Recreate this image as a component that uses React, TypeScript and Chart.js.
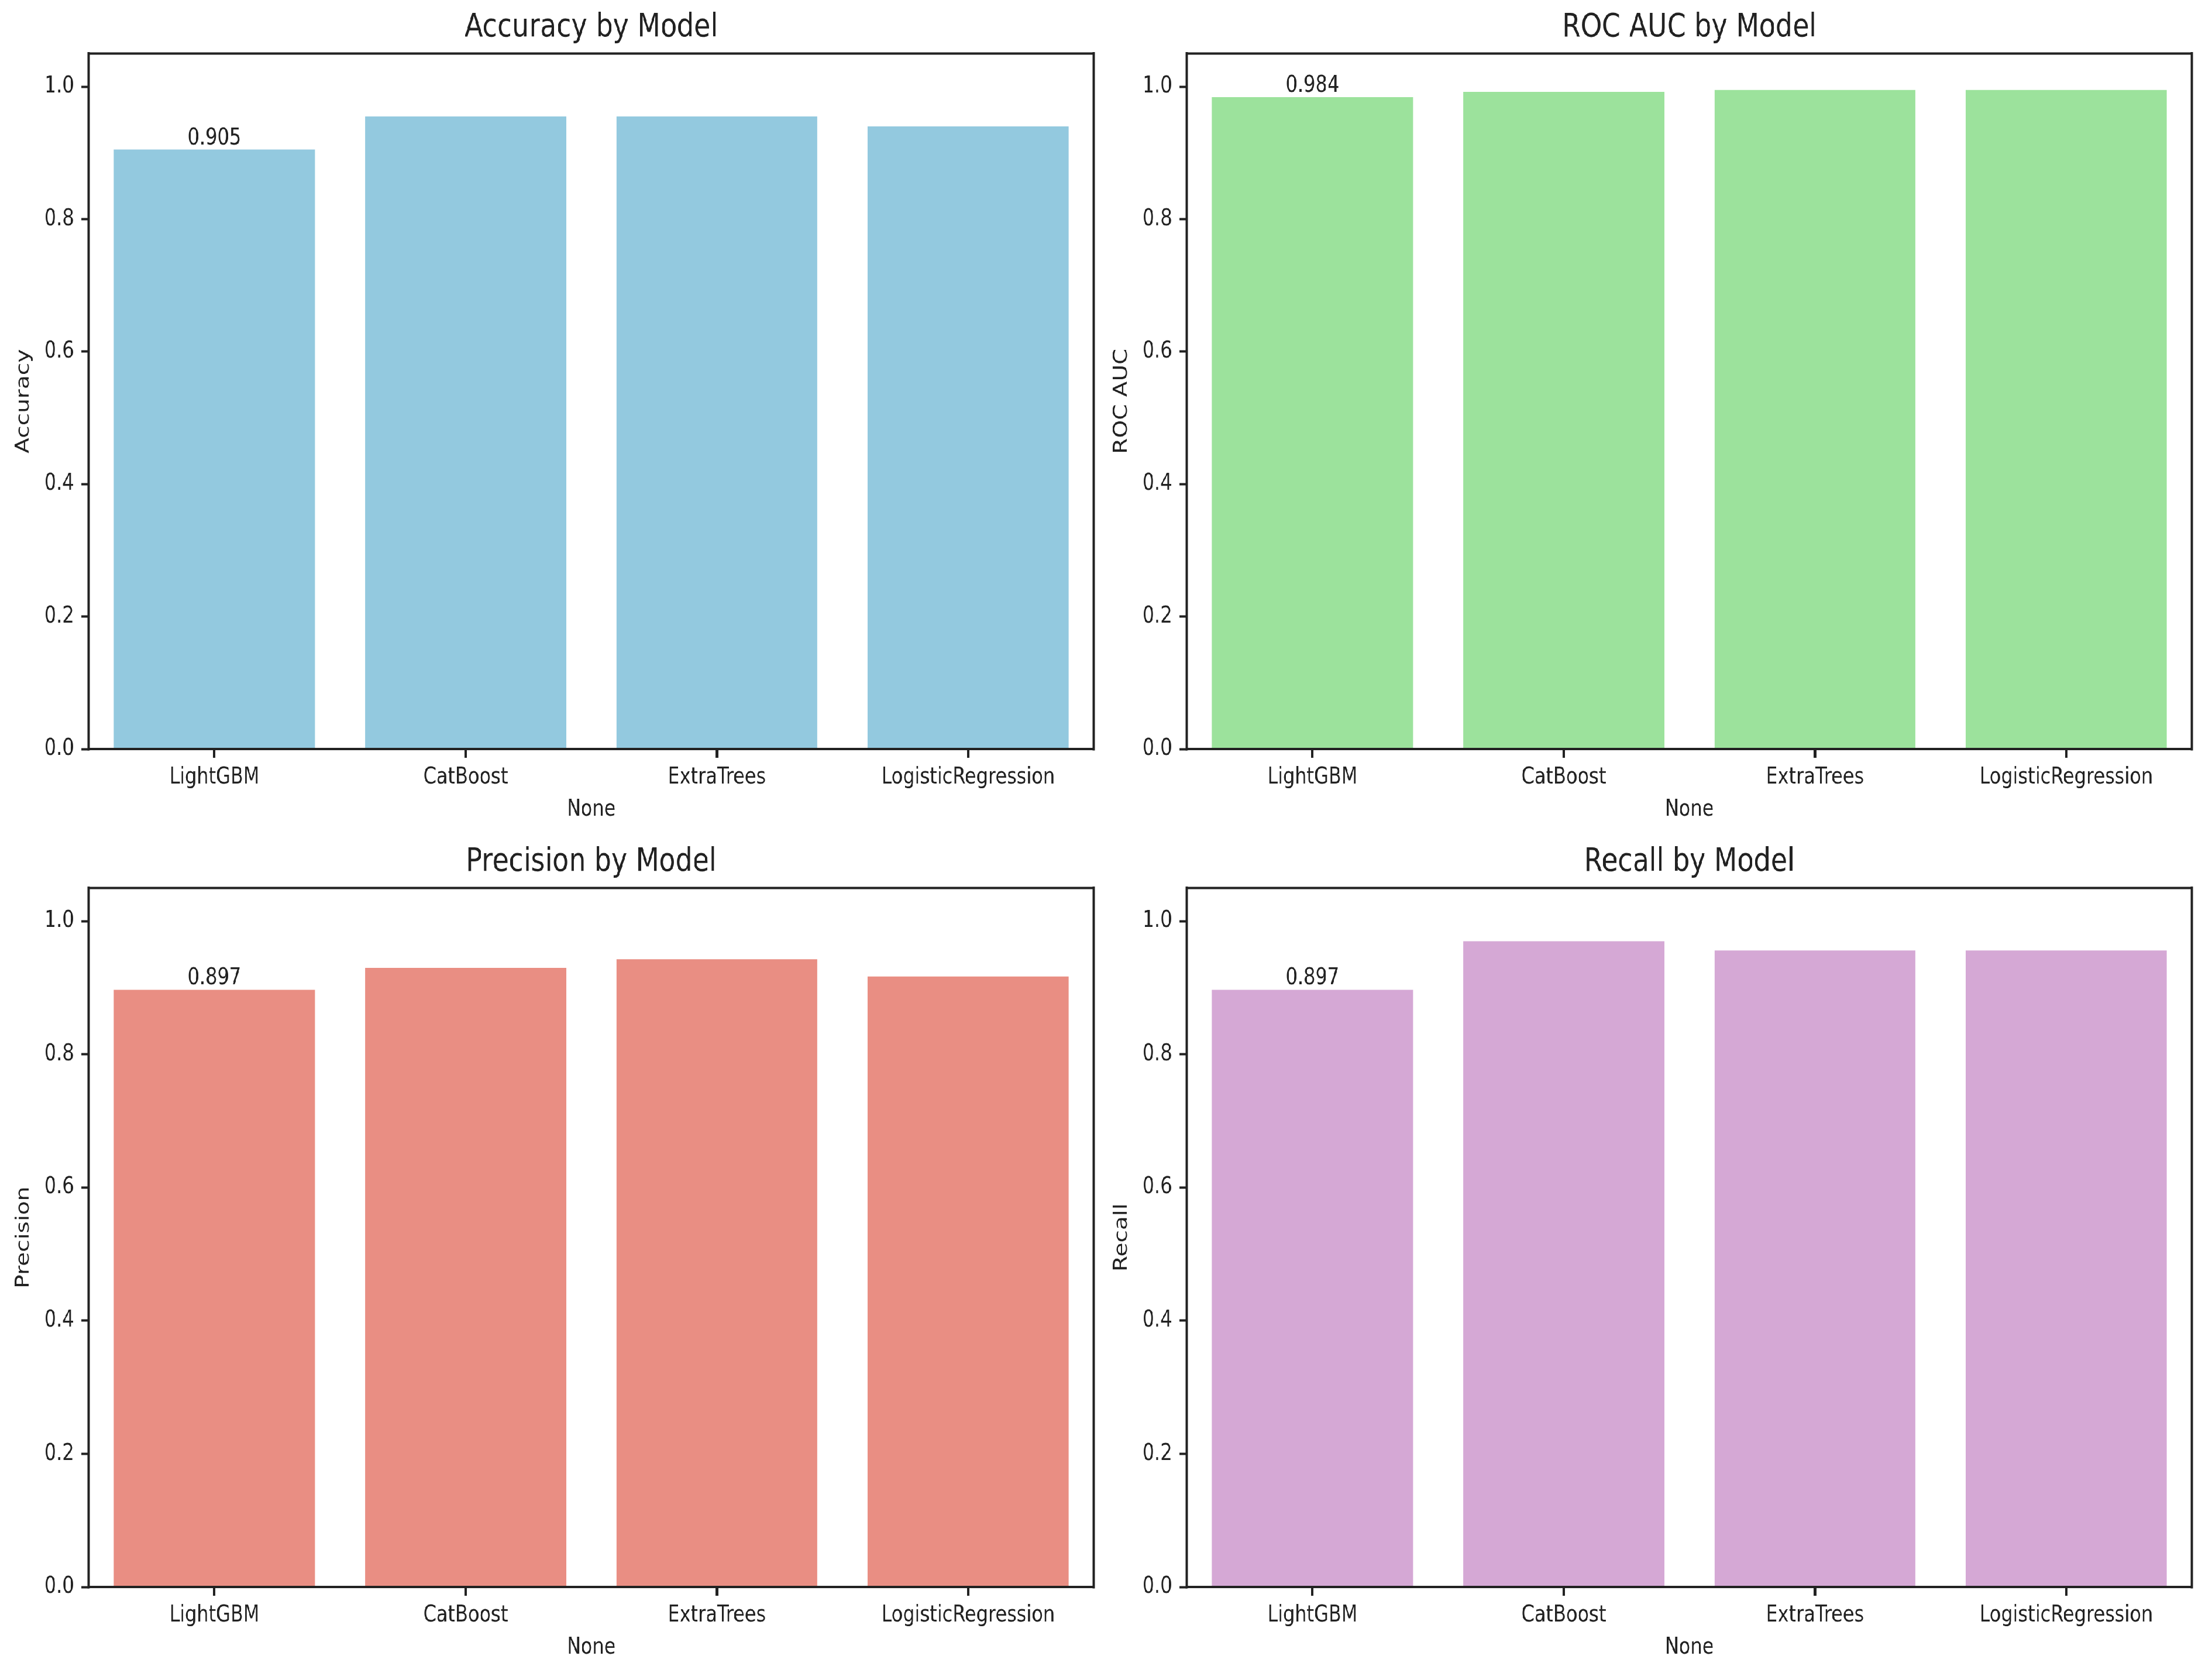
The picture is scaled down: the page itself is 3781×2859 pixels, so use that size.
import { useEffect, useRef } from "react";
import { Chart, registerables } from "chart.js";

Chart.register(...registerables);

// model names on the x axis
const models = ["LightGBM", "CatBoost", "ExtraTrees", "LogisticRegression"];

// metric values
const accuracy = [0.905, 0.955, 0.955, 0.94];
const rocAuc = [0.984, 0.992, 0.995, 0.995];
const precision = [0.897, 0.93, 0.943, 0.917];
const recall = [0.897, 0.97, 0.956, 0.956];

// y axis: 0.0 .. 1.0 in steps of 0.2, top of the axis at 1.05
const Y_MAX = 1.05;
const Y_STEP = 0.2;

const FONT = "'DejaVu Sans', 'Liberation Sans', sans-serif";
const INK = "#222222";
// the reference figure is squeezed horizontally
const SQUEEZE = 0.82;
const CANVAS_W = 2289;
const X_AXIS_H = 127;

const framePlugin = {
  id: "frame",
  afterDatasetsDraw(chart: Chart) {
    const { ctx, chartArea: a } = chart;
    ctx.save();
    ctx.strokeStyle = INK;
    ctx.lineCap = "square";
    ctx.lineWidth = 4;
    ctx.beginPath();
    ctx.moveTo(a.left, a.top);
    ctx.lineTo(a.right, a.top);
    ctx.moveTo(a.left, a.bottom);
    ctx.lineTo(a.right, a.bottom);
    ctx.stroke();
    ctx.lineWidth = 5;
    ctx.beginPath();
    ctx.moveTo(a.left, a.top);
    ctx.lineTo(a.left, a.bottom);
    ctx.moveTo(a.right, a.top);
    ctx.lineTo(a.right, a.bottom);
    ctx.stroke();
    ctx.restore();
  },
};

// only the first bar carries a value label
const barLabelPlugin = {
  id: "barLabel",
  afterDatasetsDraw(chart: Chart) {
    const el: any = chart.getDatasetMeta(0).data[0];
    const v = chart.data.datasets[0].data[0] as number;
    if (!el) return;
    const { ctx } = chart;
    ctx.save();
    ctx.fillStyle = INK;
    ctx.font = `39px ${FONT}`;
    ctx.textAlign = "center";
    ctx.textBaseline = "alphabetic";
    ctx.fillText(v.toFixed(3), el.x, el.y - 9);
    ctx.restore();
  },
};

interface PanelProps {
  title: string;
  axisLabel: string;
  values: number[];
  color: string;
  left: number;
  top: number;
  height: number;
}

function Panel({ title, axisLabel, values, color, left, top, height }: PanelProps) {
  const ref = useRef<HTMLCanvasElement>(null);

  useEffect(() => {
    if (!ref.current) return;
    const tickFont = { family: FONT, size: 39, lineHeight: 1.2 };
    const chart = new Chart(ref.current, {
      type: "bar",
      data: {
        labels: models,
        datasets: [
          {
            data: values,
            backgroundColor: color,
            borderWidth: 0,
            categoryPercentage: 1,
            barPercentage: 0.8,
          },
        ],
      },
      options: {
        responsive: false,
        animation: false,
        devicePixelRatio: 1,
        layout: { padding: { left: 0, right: 9, top: 0, bottom: 0 } },
        plugins: {
          legend: { display: false },
          tooltip: { enabled: false },
          title: {
            display: true,
            text: title,
            fullSize: false,
            color: INK,
            font: { family: FONT, size: 56, weight: "normal", lineHeight: 1.2 },
            padding: { top: 13.5, bottom: 10.7 },
          },
        },
        scales: {
          x: {
            type: "category",
            offset: true,
            border: { display: false },
            grid: {
              offset: false,
              drawOnChartArea: false,
              drawTicks: true,
              tickLength: 15,
              tickWidth: 5,
              tickColor: INK,
            },
            ticks: { color: INK, font: tickFont, padding: 10, maxRotation: 0, autoSkip: false },
            title: { display: true, text: "None", color: INK, font: tickFont, padding: 0 },
            afterFit: (s: any) => {
              s.height = X_AXIS_H;
            },
          },
          y: {
            min: 0,
            max: Y_MAX,
            border: { display: false },
            grid: {
              drawOnChartArea: false,
              drawTicks: true,
              tickLength: 15,
              tickWidth: 4,
              tickColor: INK,
            },
            ticks: {
              stepSize: Y_STEP,
              includeBounds: false,
              color: INK,
              font: tickFont,
              padding: 15.5,
              callback: (v: any) => Number(v).toFixed(1),
            },
            title: {
              display: true,
              text: axisLabel,
              color: INK,
              font: tickFont,
              padding: { top: 26, bottom: 0 },
            },
            afterFit: (s: any) => {
              s.width = 185;
            },
          },
        },
      },
      plugins: [framePlugin, barLabelPlugin],
    });
    return () => chart.destroy();
  }, [title, axisLabel, values, color]);

  return (
    <canvas
      ref={ref}
      width={CANVAS_W}
      height={height}
      style={{ position: "absolute", left, top }}
    />
  );
}

export default function App() {
  return (
    <div
      style={{
        position: "fixed",
        left: 0,
        top: 0,
        width: 3781,
        height: 2859,
        overflow: "hidden",
        background: "#ffffff",
      }}
    >
      <div
        style={{
          position: "relative",
          width: 4611,
          height: 2859,
          transform: `scaleX(${SQUEEZE})`,
          transformOrigin: "0 0",
        }}
      >
        <Panel title="Accuracy by Model" axisLabel="Accuracy" values={accuracy} color="#93c9df" left={0} top={0} height={1280 + X_AXIS_H} />
        <Panel title="ROC AUC by Model" axisLabel="ROC AUC" values={rocAuc} color="#9ce29c" left={CANVAS_W} top={0} height={1280 + X_AXIS_H} />
        <Panel title="Precision by Model" axisLabel="Precision" values={precision} color="#e98e83" left={0} top={1426} height={1286 + X_AXIS_H} />
        <Panel title="Recall by Model" axisLabel="Recall" values={recall} color="#d5a8d5" left={CANVAS_W} top={1426} height={1286 + X_AXIS_H} />
      </div>
    </div>
  );
}
